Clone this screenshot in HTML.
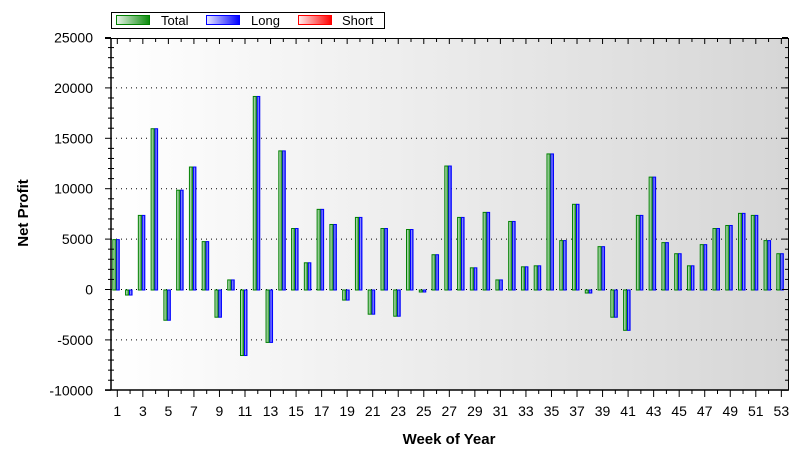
<!DOCTYPE html>
<html><head><meta charset="utf-8"><style>
html,body{margin:0;padding:0;background:#fff;}
svg{display:block;font-family:"Liberation Sans",Arial,sans-serif;}
</style></head><body>
<svg id="s" width="812" height="462" xmlns="http://www.w3.org/2000/svg">
<defs>
<linearGradient id="bg" x1="0" x2="1" y1="0" y2="0"><stop offset="0" stop-color="#ffffff"/><stop offset="1" stop-color="#d6d6d6"/></linearGradient>
<linearGradient id="gg" x1="0" x2="1"><stop offset="0" stop-color="#e8f4e8"/><stop offset="1" stop-color="#0a8a0a"/></linearGradient>
<linearGradient id="bb" x1="0" x2="1"><stop offset="0" stop-color="#e8e8ff"/><stop offset="1" stop-color="#0000ff"/></linearGradient>
<linearGradient id="rr" x1="0" x2="1"><stop offset="0" stop-color="#ffeeee"/><stop offset="1" stop-color="#ff0000"/></linearGradient>
</defs>
<rect x="111" y="38" width="677" height="352" fill="url(#bg)"/>
<g id="g"></g>
<rect x="111.5" y="12.5" width="273" height="16" fill="#fff" stroke="#000"/>
<rect x="116.5" y="15.5" width="33" height="9" fill="url(#gg)" stroke="#008000"/>
<text x="161" y="25" font-size="13">Total</text>
<rect x="206.5" y="15.5" width="33" height="9" fill="url(#bb)" stroke="#0000ff"/>
<text x="251" y="25" font-size="13">Long</text>
<rect x="298.5" y="15.5" width="33" height="9" fill="url(#rr)" stroke="#ff0000"/>
<text x="342" y="25" font-size="13">Short</text>
<text x="449" y="444" font-size="15" font-weight="bold" text-anchor="middle">Week of Year</text>
<text transform="translate(28,213) rotate(-90)" font-size="15" font-weight="bold" text-anchor="middle">Net Profit</text>
</svg>
<script>
(function(){
var v=[5000,-500,7400,16000,-3000,9900,12200,4800,-2700,1000,-6500,19200,-5200,13800,6100,2700,8000,6500,-1000,7200,-2400,6100,-2600,6000,-200,3500,12300,7200,2200,7700,1000,6800,2300,2400,13500,4900,8500,-300,4300,-2700,-4000,7400,11200,4700,3600,2400,4500,6100,6400,7600,7400,4900,3600];
var g=document.getElementById('g'),h='';
var Z=289.5,K=50.4/5000;
function y(val){return Z-val*K;}
function X(i){return 117.3+(i-1)*12.77;}
for(var t=-5000;t<=20000;t+=5000){h+='<line x1="111" x2="788" y1="'+y(t)+'" y2="'+y(t)+'" stroke="#000" stroke-dasharray="1,4"/>';}
for(var i=1;i<=53;i++){var x=X(i),a=v[i-1],tp=Math.min(y(a),Z),hh=Math.abs(y(a)-Z);
var gx=Math.max(x-5,111.5);
h+='<rect x="'+(gx+0.5)+'" y="'+(tp+0.5)+'" width="'+(x-1-gx-0.5)+'" height="'+hh+'" fill="url(#gg)" stroke="#008000"/>';
h+='<rect x="'+(x-0.5)+'" y="'+(tp+0.5)+'" width="2.5" height="'+hh+'" fill="url(#bb)" stroke="#0000ff"/>';}
h+='<line x1="111" x2="111" y1="38" y2="390" stroke="#000" stroke-width="1.5"/>';
h+='<line x1="788.5" x2="788.5" y1="38" y2="390" stroke="#000"/>';
h+='<line x1="105" x2="789" y1="390" y2="390" stroke="#000" stroke-width="1.5"/>';
h+='<line x1="105" x2="789" y1="38.5" y2="38.5" stroke="#000"/>';
for(var t=-10000;t<=25000;t+=1000){var yy=y(t);var maj=t%5000==0;h+='<line x1="'+(maj?105:108)+'" x2="'+(maj?111:114)+'" y1="'+yy+'" y2="'+yy+'" stroke="#000"/>';
h+='<line x1="'+(maj?782:785)+'" x2="788" y1="'+yy+'" y2="'+yy+'" stroke="#000"/>';
if(maj)h+='<text x="93" y="'+(yy+5)+'" font-size="14" text-anchor="end">'+t+'</text>';}
for(var i=1;i<=53;i++){var x=X(i);var o=i%2==1;h+='<line x1="'+x+'" x2="'+x+'" y1="390" y2="'+(o?397:394)+'" stroke="#000"/>';
h+='<line x1="'+x+'" x2="'+x+'" y1="38" y2="'+(o?44:42)+'" stroke="#000"/>';
if(o)h+='<text x="'+x+'" y="416" font-size="14" text-anchor="middle">'+i+'</text>';}
g.innerHTML=h;
})();
</script>
</body></html>
